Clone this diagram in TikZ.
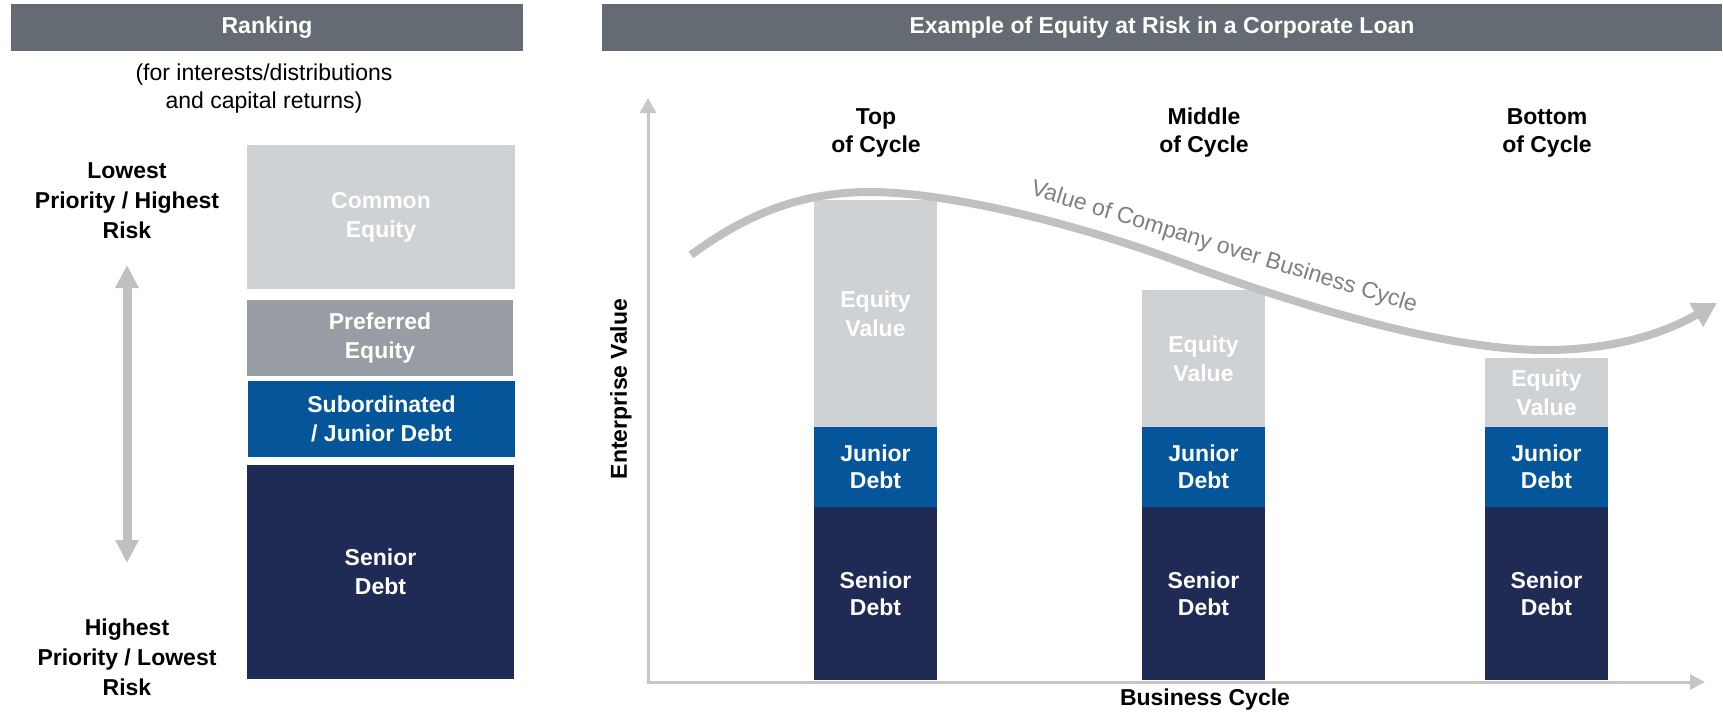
\documentclass[tikz,border=0pt]{standalone}
\usepackage{fontspec}
\setmainfont{Liberation Sans}
\usetikzlibrary{arrows.meta}
\definecolor{hdrgray}{HTML}{646B72}
\definecolor{lightgr}{HTML}{CFD2D5}
\definecolor{prefgr}{HTML}{979DA3}
\definecolor{midblue}{HTML}{04559A}
\definecolor{navy}{HTML}{1F2B55}
\definecolor{arrgr}{HTML}{C0C0C0}
\definecolor{axisgr}{HTML}{C6C6C6}
\definecolor{curvetxt}{HTML}{7F7F7F}
\begin{document}
\begin{tikzpicture}[x=1pt,y=-1pt,
  box/.style={inner sep=0pt, outer sep=0pt, anchor=north west, text=white, align=center,
              font=\bfseries\fontsize{23}{29}\selectfont},
  hdr/.style={box, fill=hdrgray, minimum height=47pt},
  lbl/.style={align=center, text=black, font=\bfseries\fontsize{23}{30}\selectfont},
  toplbl/.style={align=center, text=black, font=\bfseries\fontsize{23}{28}\selectfont},
  eqbar/.style={box, fill=lightgr, minimum width=123pt},
  jrbar/.style={box, fill=midblue, minimum width=123pt, minimum height=80pt, font=\bfseries\fontsize{23}{27}\selectfont},
  srbar/.style={box, fill=navy, minimum width=123pt, minimum height=173pt, font=\bfseries\fontsize{23}{27}\selectfont},
]
\useasboundingbox (0,0) rectangle (1723,713);

% ---------- left panel ----------
\node[hdr, minimum width=512pt] (hL) at (11,4) {Ranking};
\node[align=center, font=\fontsize{23}{28}\selectfont] (sub) at (264,89)
  {(for interests/distributions\\and capital returns)};

\node[box, fill=lightgr, minimum width=268pt, minimum height=144pt] (ce) at (247,145) {Common\\Equity};
\node[box, fill=prefgr, minimum width=266pt, minimum height=76pt] (pe) at (247,300) {Preferred\\Equity};
\node[box, fill=midblue, minimum width=267pt, minimum height=76pt] (sd) at (248,381) {Subordinated\\/ Junior Debt};
\node[box, fill=navy, minimum width=267pt, minimum height=214pt] (sr) at (247,465) {Senior\\Debt};

\node[lbl] (low) at (127,201) {Lowest\\Priority / Highest\\Risk};
\node[lbl] (high) at (127,657) {Highest\\Priority / Lowest\\Risk};
\coordinate (aT) at (127,265);
\coordinate (aB) at (127,563);
\draw[arrgr, line width=9pt, {Triangle[length=23pt,width=22pt]}-{Triangle[length=23pt,width=22pt]}] (aT) -- (aB);

% ---------- right panel ----------
\node[hdr, minimum width=1120pt] (hR) at (602,4) {Example of Equity at Risk in a Corporate Loan};

% bars
\node[eqbar, minimum height=227pt] (e1) at (814,200) {Equity\\Value};
\node[jrbar] (j1) at (814,427) {Junior\\Debt};
\node[srbar] (s1) at (814,507) {Senior\\Debt};

\node[eqbar, minimum height=137pt] (e2) at (1142,290) {Equity\\Value};
\node[jrbar] (j2) at (1142,427) {Junior\\Debt};
\node[srbar] (s2) at (1142,507) {Senior\\Debt};

\node[eqbar, minimum height=69pt] (e3) at (1485,358) {Equity\\Value};
\node[jrbar] (j3) at (1485,427) {Junior\\Debt};
\node[srbar] (s3) at (1485,507) {Senior\\Debt};

% axes
\coordinate (ytip) at (648,98);
\coordinate (xtip) at (1705,682);
\draw[axisgr, line width=3pt, {Triangle[length=15pt,width=16pt]}-{Triangle[length=15pt,width=15pt]}] (ytip) |- (xtip);

\node[toplbl] (t1) at (876,133) {Top\\of Cycle};
\node[toplbl] (t2) at (1204,133) {Middle\\of Cycle};
\node[toplbl] (t3) at (1547,133) {Bottom\\of Cycle};

\node[rotate=90, font=\bfseries\fontsize{23}{28}\selectfont] (ev) at (621,389) {Enterprise Value};
\node[font=\bfseries\fontsize{23}{28}\selectfont] (bc) at (1205,700) {Business Cycle};

% curve
\coordinate (c0) at (691,255);
\coordinate (c1) at (870,192);
\coordinate (c2) at (1180,262);
\coordinate (c3) at (1545,350);
\coordinate (c4) at (1717,303);
\draw[arrgr, line width=8pt, -{Triangle[length=24pt,width=26pt]}]
  (c0) .. controls (745,215) and (800,192) .. (c1)
       .. controls (950,192) and (1080,225) .. (c2)
       .. controls (1290,302) and (1440,350) .. (c3)
       .. controls (1620,350) and (1670,330) .. (c4);
\node[rotate=-17, text=curvetxt, font=\fontsize{23}{28}\selectfont] (cl) at (1224,248)
  {Value of Company over Business Cycle};
\end{tikzpicture}
\end{document}
